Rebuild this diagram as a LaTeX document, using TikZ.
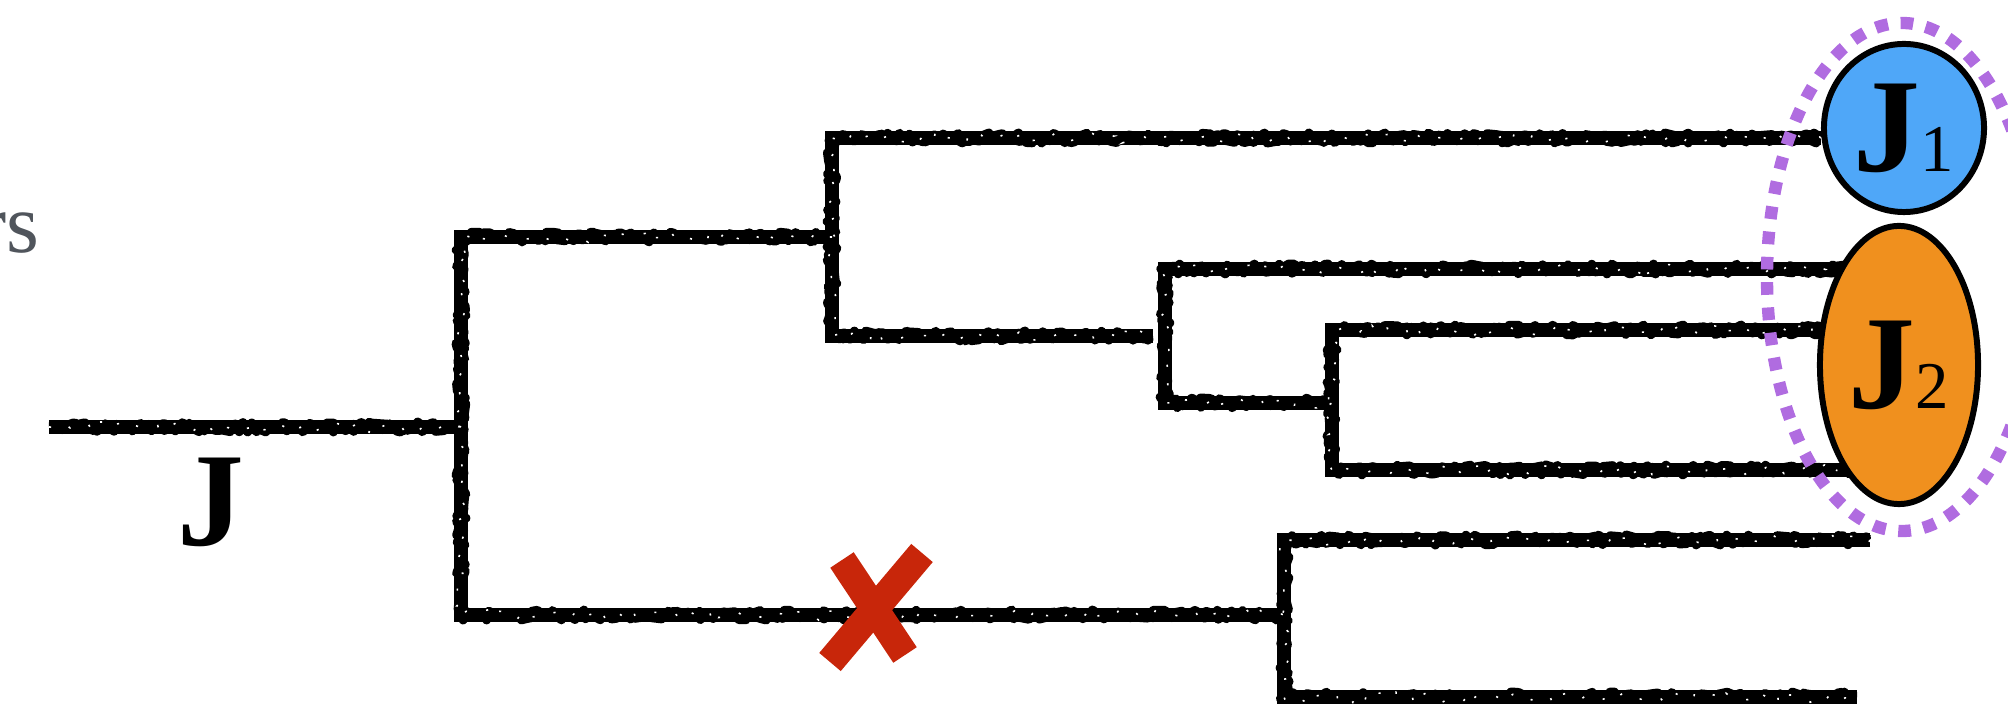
\documentclass[tikz,border=0pt]{standalone}
\usepackage{fontspec}
\setmainfont{Liberation Serif}
\usetikzlibrary{shapes.geometric,decorations.pathmorphing,backgrounds}
\definecolor{jblue}{RGB}{79,167,248}
\definecolor{jorange}{RGB}{240,144,30}
\definecolor{grpurple}{RGB}{176,108,224}
\definecolor{xred}{RGB}{200,38,10}
\definecolor{txtgray}{RGB}{80,85,92}
\newcommand{\bigJ}{\fontsize{38}{42}\selectfont\bfseries J}
\newcommand{\subn}[1]{\fontsize{19}{22}\selectfont\mdseries #1}
\tikzset{
  chalkbase/.style={line width=4.1pt, black, line cap=butt, line join=miter},
  chalkedge/.style={line width=2.6pt, black, line join=round, decorate,
     decoration={random steps, segment length=0.9pt, amplitude=1.4pt}},
  chalkfleck/.style={line width=0.45pt, white, dash pattern=on 0.6pt off 6pt, decorate,
     decoration={random steps, segment length=1.7pt, amplitude=1.5pt}},
  leafnode/.style={ellipse, draw=black, line width=1.7pt, inner sep=0pt},
  lbl/.style={inner sep=0pt},
  xstroke/.style={xred, line width=8pt, line cap=butt}
}
\begin{document}
\begin{tikzpicture}[x=0.01cm,y=-0.01cm]
\useasboundingbox (0,0) rectangle (2008,704);
\clip (0,0) rectangle (2008,704);
\pgfmathsetseed{11}
% junction coordinates
\coordinate (r0) at (49,427);
\coordinate (n1) at (461,427);
\coordinate (n1t) at (461,237);
\coordinate (n1b) at (461,615);
\coordinate (n2) at (832,237);
\coordinate (n2t) at (832,138);
\coordinate (n2b) at (832,336);
\coordinate (s3) at (1153,336);
\coordinate (n3t) at (1165,269);
\coordinate (n3b) at (1165,403);
\coordinate (n4) at (1332,403);
\coordinate (n4t) at (1332,330);
\coordinate (n4b) at (1332,470);
\coordinate (n5) at (1284,615);
\coordinate (n5t) at (1284,540);
\coordinate (n5b) at (1284,697);
\coordinate (l5a) at (1870,540);
\coordinate (l5b) at (1857,697);
% leaf nodes
\node[leafnode, fill=jblue, minimum width=1.6cm, minimum height=1.68cm] (J1) at (1904,128)
  {\bigJ\subn{1}};
\node[leafnode, fill=jorange, minimum width=1.58cm, minimum height=2.78cm] (J2) at (1899,365)
  {\bigJ\subn{2}};
\coordinate (e3) at (1870,269);
\coordinate (e4a) at (1870,330);
\coordinate (e4b) at (1870,470);
\begin{scope}[on background layer]
 \foreach \st in {chalkbase, chalkedge, chalkfleck}{
  \draw[\st] (r0) -- (n1);
  \draw[\st] (n2) -- (n1t) -- (n1b) -- (n5);
  \draw[\st] (J1.west |- n2t) -- (n2t) -- (n2b) -- (s3);
  \draw[\st] (e3) -- (n3t) -- (n3b) -- (n4);
  \draw[\st] (e4a) -- (n4t) -- (n4b) -- (e4b);
  \draw[\st] (l5a) -- (n5t) -- (n5b) -- (l5b);
 }
\end{scope}
% group outline
\draw[grpurple, line width=3.5pt, dash pattern=on 3.6pt off 3.6pt] (1902,277) ellipse [x radius=135, y radius=254];
% red cross
\coordinate (xa1) at (842,560);
\coordinate (xa2) at (905,655);
\coordinate (xb1) at (922,553);
\coordinate (xb2) at (830,662);
\draw[xstroke] (xa1) -- (xa2);
\draw[xstroke] (xb1) -- (xb2);
% labels
\node[lbl] (Jlab) at (211,502) {\bigJ};
\node[lbl, anchor=base east, text=txtgray] (cut) at (40,253) {\fontsize{24}{28}\selectfont rs};
\end{tikzpicture}
\end{document}
